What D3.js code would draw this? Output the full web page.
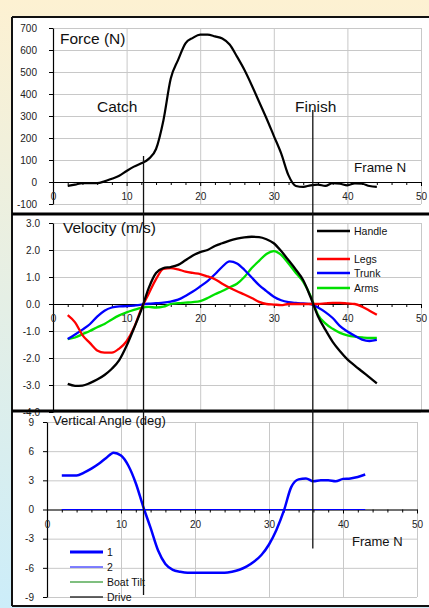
<!DOCTYPE html>
<html>
<head>
<meta charset="utf-8">
<script src="https://cdn.jsdelivr.net/npm/d3@7"></script>
<style>
  html, body { margin: 0; overflow: hidden; }
  svg { display: block; font-family: "Liberation Sans", Arial, sans-serif; }
</style>
</head>
<body>
<script>
// ---- data ----
const forceFrame = [2,3,4,5,6,7,8,9,10,11,12,13,14,15,16,17,18,19,20,21,22,23,24,25,26,27,28,29,30,31,32,33,34,35,36,37,38,39,40,41,42,43,44];
const forceN = [-18,-12,-5,-5,-5,3,15,28,50,70,85,105,150,280,470,555,630,655,670,670,662,652,625,570,510,440,365,290,210,130,30,-18,-22,-15,-12,-18,-5,-8,-15,-6,-8,-18,-22];

const velFrame = [2,3,4,5,6,7,8,9,10,11,12,13,14,15,16,17,18,19,20,21,22,23,24,25,26,27,28,29,30,31,32,33,34,35,36,37,38,39,40,41,42,43,44];
const handle = [-2.96,-3.03,-3.02,-2.93,-2.80,-2.63,-2.40,-2.08,-1.55,-0.90,-0.22,0.59,1.15,1.33,1.37,1.45,1.62,1.80,1.92,2.00,2.15,2.25,2.35,2.42,2.47,2.49,2.48,2.40,2.25,1.96,1.62,1.27,0.88,0.25,-0.45,-0.95,-1.40,-1.75,-2.05,-2.28,-2.50,-2.72,-2.94];
const legs = [-0.41,-0.68,-1.15,-1.44,-1.72,-1.80,-1.80,-1.65,-1.38,-0.88,-0.17,0.38,0.92,1.30,1.33,1.28,1.20,1.15,1.11,1.02,0.92,0.75,0.60,0.47,0.35,0.22,0.08,0.00,-0.02,-0.04,0.00,0.00,0.00,0.00,0.00,0.02,0.04,0.04,0.02,0.00,-0.10,-0.25,-0.40];
const trunk = [-1.30,-1.13,-0.95,-0.75,-0.47,-0.25,-0.13,-0.09,-0.08,-0.06,-0.02,0.01,0.03,0.05,0.09,0.16,0.30,0.46,0.65,0.85,1.10,1.38,1.58,1.50,1.27,0.98,0.70,0.48,0.27,0.14,0.07,0.04,0.02,0.00,-0.13,-0.30,-0.52,-0.82,-1.02,-1.18,-1.32,-1.37,-1.33];
const arms = [-1.30,-1.24,-1.12,-1.00,-0.86,-0.74,-0.57,-0.42,-0.31,-0.22,-0.14,-0.11,-0.13,-0.10,0.00,0.03,0.05,0.07,0.11,0.22,0.36,0.48,0.62,0.75,1.00,1.33,1.60,1.85,1.96,1.82,1.50,1.15,0.82,0.30,-0.40,-0.72,-0.92,-1.07,-1.16,-1.21,-1.24,-1.26,-1.26];

const angleFrame = [2,3,4,5,6,7,8,9,10,11,12,13,14,15,16,17,18,19,20,21,22,23,24,25,26,27,28,29,30,31,32,33,34,35,36,37,38,39,40,41,42,43];
const angle1 = [3.5,3.5,3.5,3.8,4.2,4.7,5.3,5.85,5.55,4.5,2.7,0.3,-1.9,-4.2,-5.6,-6.2,-6.4,-6.5,-6.5,-6.5,-6.5,-6.5,-6.5,-6.4,-6.2,-5.85,-5.35,-4.65,-3.6,-2.1,-0.15,2.3,3.1,3.2,2.9,3.0,3.0,2.9,3.15,3.2,3.35,3.6];
const angle2 = [0,0,0,0,0,0,0,0,0,0,0,0,0,0,0,0,0,0,0,0,0,0,0,0,0,0,0,0,0,0,0,0,0,0,0,0,0,0,0,0,0,0];

const xTicks = [0,10,20,30,40,50];
const xMinor = [2,4,6,8,12,14,16,18,22,24,26,28,32,34,36,38,42,44,46,48];
const forceTicks = [-100,0,100,200,300,400,500,600,700];
const velTicks = [-4,-3,-2,-1,0,1,2,3];
const angleTicks = [-9,-6,-3,0,3,6,9];

const velNames = ['Handle', 'Legs', 'Trunk', 'Arms'];
const velColors = ['#000000', '#ff0000', '#0000ff', '#00e000'];
const angleNames = ['1', '2', 'Boat Tilt', 'Drive'];
const angleColors = ['#0000ff', '#0000ff', '#008000', '#333333'];

const catchFrame = 12.3, finishFrame = 35.3;   // in force-panel frames
const catchTop = 118, finishTop = 327;          // force units
const catchBottom = -8.8, finishBottom = -4.0;  // angle units

// ---- layout ----
const W = 429, H = 608;
const svg = d3.select('body').append('svg')
    .attr('width', W)
    .attr('height', H);

let grad = svg.append('defs').append('linearGradient')
    .attr('id', 'bg')
    .attr('x1', 0).attr('y1', 0).attr('x2', 0).attr('y2', 1);
grad.append('stop').attr('offset', '0%').attr('stop-color', '#fdf1d2');
grad.append('stop').attr('offset', '100%').attr('stop-color', '#ccedf9');

svg.append('rect').attr('width', W).attr('height', H).attr('fill', 'url(#bg)');
svg.append('rect').attr('x', 12).attr('y', 17).attr('width', W - 12).attr('height', 589).attr('fill', '#fff');

function panel(cfg) {
    const x = d3.scaleLinear().domain([0, 50]).range(cfg.xr);
    const y = d3.scaleLinear().domain(cfg.yd).range(cfg.yr);
    const g = svg.append('g');
    const plotW = cfg.xr[1] - cfg.xr[0];
    const plotH = cfg.yr[0] - cfg.yr[1];

    // gridlines
    g.append('g')
        .attr('transform', 'translate(' + cfg.xr[0] + ',0)')
        .call(d3.axisLeft(y).tickValues(cfg.yTicks).tickSize(-plotW).tickFormat(''))
        .call(s => s.select('.domain').remove())
        .selectAll('line').attr('stroke', '#c8c8c8');
    g.append('g')
        .attr('transform', 'translate(0,' + cfg.yr[0] + ')')
        .call(d3.axisBottom(x).tickValues(xTicks.slice(1)).tickSize(-plotH).tickFormat(''))
        .call(s => s.select('.domain').remove())
        .selectAll('line').attr('stroke', '#c8c8c8');

    // y axis
    const ya = g.append('g')
        .attr('transform', 'translate(' + cfg.xr[0] + ',0)')
        .call(d3.axisLeft(y).tickValues(cfg.yTicks).tickSize(4).tickPadding(cfg.pad).tickFormat(cfg.fmt).tickSizeOuter(0));
    ya.select('.domain').attr('stroke', '#000').attr('stroke-width', 1.2);
    ya.selectAll('text').attr('font-size', 10).attr('fill', '#222').attr('font-family', 'Liberation Sans, Arial, sans-serif');

    // x axis at zero
    const xa = g.append('g')
        .attr('transform', 'translate(0,' + y(0) + ')')
        .call(d3.axisBottom(x).tickValues(xTicks).tickSize(4).tickPadding(7).tickSizeOuter(0));
    xa.select('.domain').attr('stroke', '#000').attr('stroke-width', 1.2);
    xa.selectAll('text').attr('font-size', 10).attr('fill', '#222').attr('font-family', 'Liberation Sans, Arial, sans-serif');
    g.append('g')
        .attr('transform', 'translate(0,' + y(0) + ')')
        .call(d3.axisBottom(x).tickValues(xMinor).tickSize(3).tickFormat(''))
        .call(s => s.select('.domain').remove());

    // title
    g.append('text')
        .attr('x', cfg.title[1]).attr('y', cfg.title[2])
        .attr('font-size', cfg.title[3])
        .attr('fill', '#111')
        .text(cfg.title[0]);

    return { x, y, g };
}

const p1 = panel({
    xr: [53, 421], yd: [-100, 700], yr: [204, 28], yTicks: forceTicks,
    fmt: d => String(d), pad: 12, title: ['Force (N)', 60, 44, 15.5]
});
const p2 = panel({
    xr: [53, 421], yd: [-4, 3], yr: [412, 223], yTicks: velTicks,
    fmt: d => d.toFixed(1), pad: 9, title: ['Velocity (m/s)', 63, 233, 15.5]
});
const p3 = panel({
    xr: [47, 417], yd: [-9, 9], yr: [597, 422], yTicks: angleTicks,
    fmt: d => String(d), pad: 9, title: ['Vertical Angle (deg)', 53, 425, 13]
});

// force
const forceLine = d3.line()
    .x((d, i) => p1.x(forceFrame[i]))
    .y(d => p1.y(d))
    .curve(d3.curveMonotoneX);
p1.g.append('path')
    .attr('d', forceLine(forceN))
    .attr('fill', 'none').attr('stroke', '#000').attr('stroke-width', 2.2);

p1.g.append('text').attr('x', 97).attr('y', 112).attr('font-size', 15.5).attr('fill', '#111').text('Catch');
p1.g.append('text').attr('x', 295).attr('y', 112).attr('font-size', 15.5).attr('fill', '#111').text('Finish');
p1.g.append('text').attr('x', 354).attr('y', 172).attr('font-size', 13.4).attr('fill', '#111').text('Frame N');

// velocity
const velLine = d3.line()
    .x((d, i) => p2.x(velFrame[i]))
    .y(d => p2.y(d))
    .curve(d3.curveMonotoneX);
[arms, trunk, legs, handle].forEach((s, k) => {
    p2.g.append('path')
        .attr('d', velLine(s))
        .attr('fill', 'none')
        .attr('stroke', velColors[3 - k])
        .attr('stroke-width', 2.3);
});

const velLegY = [231, 259, 273, 288];
velNames.forEach((n, i) => {
    p2.g.append('line')
        .attr('x1', 317).attr('x2', 350)
        .attr('y1', velLegY[i]).attr('y2', velLegY[i])
        .attr('stroke', velColors[i]).attr('stroke-width', 2.5);
    p2.g.append('text')
        .attr('x', 354).attr('y', velLegY[i] + 4)
        .attr('font-size', 10.5).attr('fill', '#111')
        .text(n);
});

// vertical angle
const angLine = d3.line()
    .x((d, i) => p3.x(angleFrame[i]))
    .y(d => p3.y(d))
    .curve(d3.curveMonotoneX);
p3.g.append('path')
    .attr('d', angLine(angle2))
    .attr('fill', 'none').attr('stroke', '#0000ff').attr('stroke-width', 1.2);
p3.g.append('path')
    .attr('d', angLine(angle1))
    .attr('fill', 'none').attr('stroke', '#0000ff').attr('stroke-width', 2.5);

p3.g.append('text').attr('x', 352).attr('y', 546).attr('font-size', 13).attr('fill', '#111').text('Frame N');

const angLegY = [552, 567, 582, 597];
const angLegW = [3, 1.2, 1.2, 1.6];
angleNames.forEach((n, i) => {
    p3.g.append('line')
        .attr('x1', 70).attr('x2', 103)
        .attr('y1', angLegY[i]).attr('y2', angLegY[i])
        .attr('stroke', angleColors[i]).attr('stroke-width', angLegW[i]);
    p3.g.append('text')
        .attr('x', 107).attr('y', angLegY[i] + 4)
        .attr('font-size', 10.5).attr('fill', '#111')
        .text(n);
});

// frame and panel separators
svg.append('line').attr('x1', 12).attr('x2', W).attr('y1', 17).attr('y2', 17).attr('stroke', '#111').attr('stroke-width', 2);
svg.append('line').attr('x1', 12).attr('x2', 12).attr('y1', 17).attr('y2', 606).attr('stroke', '#111').attr('stroke-width', 2);
svg.append('line').attr('x1', 12).attr('x2', W).attr('y1', 606).attr('y2', 606).attr('stroke', '#111').attr('stroke-width', 2);
[214, 411].forEach(yy => {
    svg.append('line').attr('x1', 12).attr('x2', W).attr('y1', yy).attr('y2', yy).attr('stroke', '#000').attr('stroke-width', 3);
});

// catch / finish markers
svg.append('line')
    .attr('x1', p1.x(catchFrame)).attr('x2', p1.x(catchFrame))
    .attr('y1', p1.y(catchTop)).attr('y2', p3.y(catchBottom))
    .attr('stroke', '#111').attr('stroke-width', 1.3);
svg.append('line')
    .attr('x1', p1.x(finishFrame)).attr('x2', p1.x(finishFrame))
    .attr('y1', p1.y(finishTop)).attr('y2', p3.y(finishBottom))
    .attr('stroke', '#111').attr('stroke-width', 1.3);
</script>
</body>
</html>
